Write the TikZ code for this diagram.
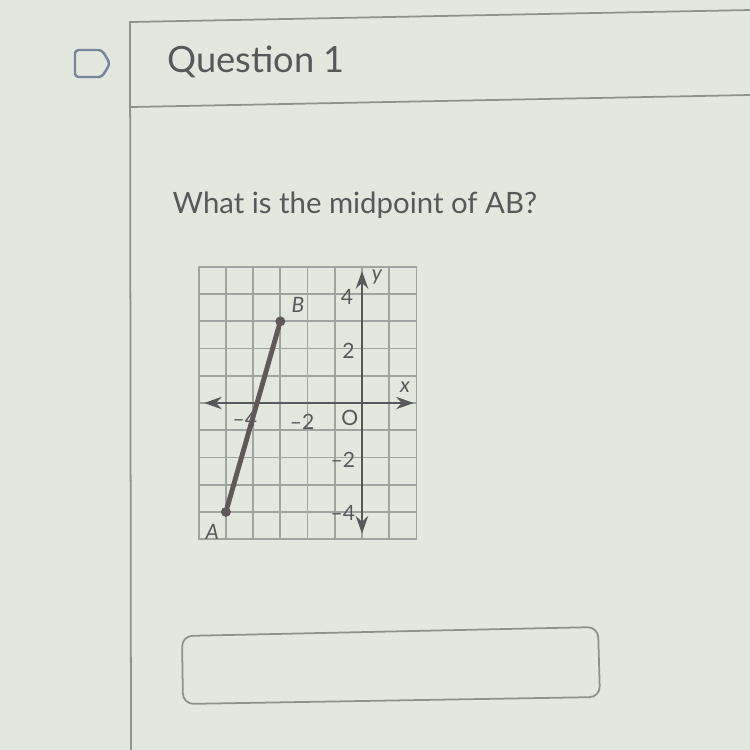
\documentclass[tikz,border=0pt]{standalone}
\usepackage{fontspec}
\setmainfont{Lato}
\usetikzlibrary{arrows.meta}

\definecolor{screen}{RGB}{226,232,222}
\definecolor{ink}{RGB}{88,88,92}
\definecolor{rule}{RGB}{140,146,140}
\definecolor{gridline}{RGB}{160,164,160}
\definecolor{flag}{RGB}{118,134,160}
\definecolor{seg}{RGB}{98,88,90}

\tikzset{
  ticklabel/.style={ink, font=\fontsize{6pt}{7pt}\selectfont, inner sep=0pt},
  pointlabel/.style={ink, font=\fontsize{6pt}{7pt}\selectfont\itshape, inner sep=0pt},
  endpoint/.style={circle, fill=seg, inner sep=0pt, minimum size=1mm}
}

\begin{document}
\begin{tikzpicture}[line cap=round, line join=round, x=0.01cm, y=-0.01cm]

    \fill[screen] (0,0) rectangle (750,750);
    \useasboundingbox (0,0) rectangle (750,750);

    % header of the question
    \draw[rule, line width=0.5pt] (130,22) -- (750,10);
    \draw[rule, line width=0.5pt] (130,107) -- (750,95);
    \draw[rule, line width=0.5pt] (130,22) -- (131,750);
    \draw[flag, line width=0.7pt, rounded corners=1pt] (75,50) -- (102,50) -- (110,63.5) -- (102,77) -- (75,77) -- cycle;
    \node[ink, anchor=base west, inner sep=0pt, font=\fontsize{10.3pt}{12pt}\selectfont] (title) at (167,72) {Question 1};

    \node[ink, anchor=base west, inner sep=0pt, font=\fontsize{8.35pt}{10pt}\selectfont] (question) at (172,213) {What is the midpoint of AB?};

    % graph
    \begin{scope}[shift={(362,403)}, x=0.272cm, y=0.272cm]
        \draw[gridline, line width=0.5pt, step=0.272cm] (-6,-5) grid (2,5);

        \draw[ink, line width=0.8pt, {Stealth[length=5pt,width=3.5pt]}-{Stealth[length=5pt,width=3.5pt]}] (-5.8,0) -- (1.9,0);
        \draw[ink, line width=0.8pt, {Stealth[length=5pt,width=3.5pt]}-{Stealth[length=5pt,width=3.5pt]}] (0,-4.8) -- (0,4.85);

        \node[endpoint] (A) at (-5,-4) {};
        \node[endpoint] (B) at (-3,3) {};
        \draw[seg, line width=1.4pt] (A) -- (B);

        \node[pointlabel] (labA) at (-5.5,-4.75) {A};
        \node[pointlabel] (labB) at (-2.35,3.6) {B};
        \node[pointlabel] (laby) at (0.55,4.63) {y};
        \node[pointlabel] (labx) at (1.58,0.6) {x};

        \node[ticklabel] (y4) at (-0.55,3.9) {4};
        \node[ticklabel] (y2) at (-0.5,1.9) {2};
        \node[ticklabel] (ym2) at (-0.7,-2.1) {–2};
        \node[ticklabel] (ym4) at (-0.7,-4.05) {–4};
        \node[ticklabel] (xm2) at (-2.2,-0.7) {–2};
        \node[ticklabel] (xm4) at (-4.3,-0.6) {–4};
        \node[ticklabel] (orig) at (-0.45,-0.55) {O};
    \end{scope}

    % answer field
    \draw[rule, line width=0.5pt, rounded corners=3pt] (182,636) -- (598,627) -- (600,697) -- (183,704) -- cycle;

\end{tikzpicture}
\end{document}
